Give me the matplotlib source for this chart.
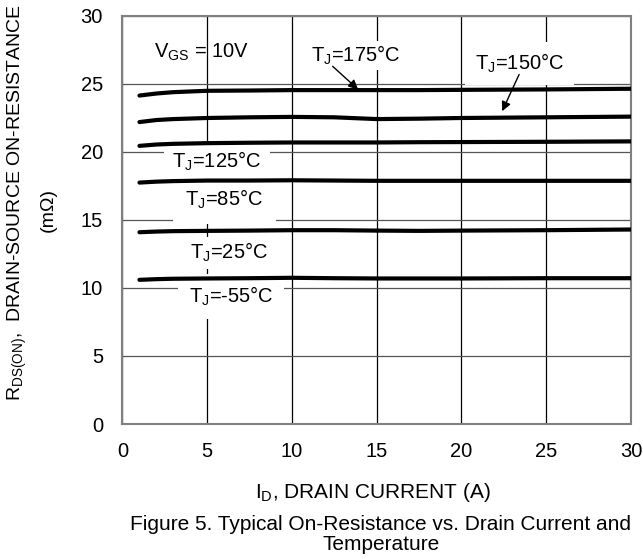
import matplotlib
matplotlib.use("Agg")
import matplotlib.pyplot as plt

plt.rcParams['font.family'] = ['Liberation Sans', 'DejaVu Sans']
plt.rcParams['mathtext.fontset'] = 'custom'
plt.rcParams['mathtext.rm'] = 'Liberation Sans'
plt.rcParams['mathtext.it'] = 'Liberation Sans'

# drain current (A)
i_d = [1, 2, 3, 5, 7.5, 10, 12.5, 15, 17.5, 20, 25, 30]

# on-resistance (mOhm) per junction temperature
r_175 = [24.15, 24.3, 24.4, 24.5, 24.52, 24.55, 24.55, 24.55, 24.55, 24.57, 24.6, 24.65]
r_150 = [22.2, 22.35, 22.42, 22.5, 22.55, 22.58, 22.55, 22.42, 22.45, 22.5, 22.55, 22.6]
r_125 = [20.45, 20.55, 20.6, 20.65, 20.68, 20.7, 20.7, 20.7, 20.72, 20.73, 20.75, 20.78]
r_85 = [17.75, 17.82, 17.86, 17.9, 17.9, 17.92, 17.9, 17.88, 17.88, 17.88, 17.88, 17.88]
r_25 = [14.1, 14.15, 14.18, 14.2, 14.22, 14.25, 14.25, 14.22, 14.2, 14.22, 14.25, 14.3]
r_m55 = [10.6, 10.65, 10.68, 10.7, 10.72, 10.75, 10.72, 10.7, 10.7, 10.7, 10.72, 10.72]

ticks = [0, 5, 10, 15, 20, 25, 30]

fig = plt.figure(figsize=(6.43, 5.59), dpi=100)
ax = fig.add_axes([0.1905, 0.2415, 0.7908, 0.7299])

for r in [r_175, r_150, r_125, r_85, r_25, r_m55]:
    ax.plot(i_d, r, color='black', lw=3, solid_capstyle='round', zorder=3)

ax.set_xlim(0, 30)
ax.set_ylim(0, 30)
ax.set_xticks(ticks)
ax.set_yticks(ticks)
ax.tick_params(length=0, labelsize=14.5)
ax.tick_params(axis='x', pad=13)
ax.tick_params(axis='y', pad=14)
ax.xaxis.grid(True, color='black', lw=0.9)
ax.yaxis.grid(True, color='#555555', lw=0.9)
ax.set_axisbelow(True)
for s in ax.spines.values():
    s.set_color('#808080')
    s.set_linewidth(1.5)

fs = 14.5
def wbox(p):
    return dict(facecolor='white', edgecolor='none', pad=p)

# labels sit above the grid but below the curves
ax.text(1.85, 27.3, r'V$_{\mathrm{GS}}$ = 10V', fontsize=fs, va='center', ha='left', zorder=4)
ax.text(11.1, 27.1, r'T$_{\mathrm{J}}$=175°C', fontsize=fs, va='center', ha='left', bbox=wbox(2), zorder=2.5)
ax.text(20.8, 26.5, r'T$_{\mathrm{J}}$=150°C', fontsize=fs, va='center', ha='left', bbox=wbox(7), zorder=2.5)
ax.text(2.95, 19.3, r'T$_{\mathrm{J}}$=125°C', fontsize=fs, va='center', ha='left', bbox=wbox(6), zorder=2.5)
ax.text(3.7, 16.5, r'T$_{\mathrm{J}}$=85°C', fontsize=fs, va='center', ha='left', bbox=wbox(9), zorder=2.5)
ax.text(3.97, 12.6, r'T$_{\mathrm{J}}$=25°C', fontsize=fs, va='center', ha='left', bbox=wbox(3), zorder=2.5)
ax.text(3.9, 9.36, r'T$_{\mathrm{J}}$=-55°C', fontsize=fs, va='center', ha='left', bbox=wbox(8), zorder=2.5)

arrow = dict(arrowstyle='-|>', color='black', lw=1, mutation_scale=14, shrinkA=0, shrinkB=0)
ax.annotate('', xy=(13.9, 24.6), xytext=(12.4, 26.3), arrowprops=arrow, zorder=5)
ax.annotate('', xy=(22.4, 23.0), xytext=(23.4, 25.7), arrowprops=arrow, zorder=5)

fig.text(0.58, 1 - 493 / 559, r'I$_{\mathrm{D}}$, DRAIN CURRENT (A)', fontsize=15, ha='center', va='center')
fig.text(0.592, 1 - 524 / 559, 'Figure 5. Typical On-Resistance vs. Drain Current and', fontsize=15, ha='center', va='center')
fig.text(0.592, 1 - 545 / 559, 'Temperature', fontsize=15, ha='center', va='center')

fig.text(17 / 643, 1 - 202 / 559, r'R$_{\mathrm{DS(ON)}}$,  DRAIN-SOURCE ON-RESISTANCE', fontsize=14,
         rotation=90, ha='center', va='center')
fig.text(48 / 643, 1 - 210 / 559, '(mΩ)', fontsize=14, rotation=90, ha='center', va='center')

fig.savefig('out.png', dpi=100)
